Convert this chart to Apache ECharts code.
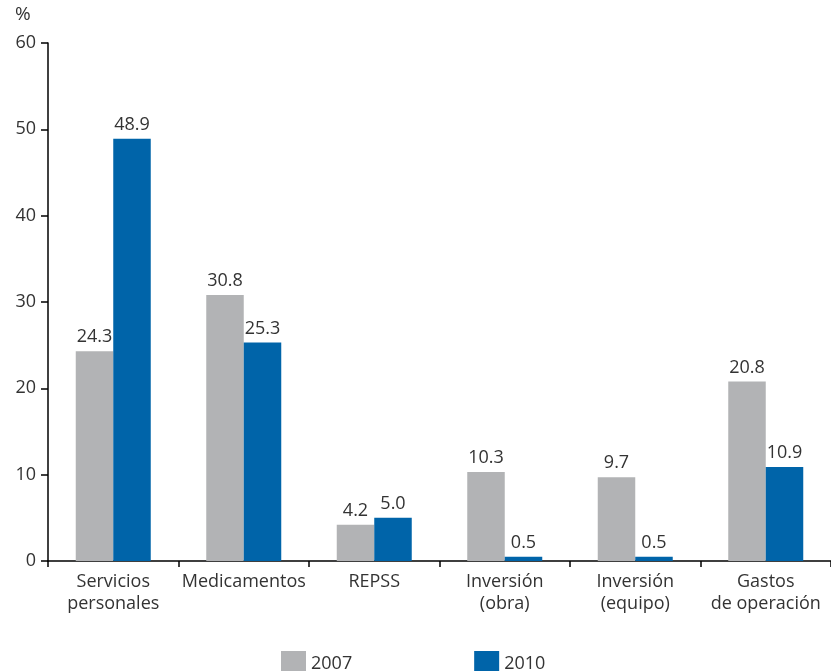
<!DOCTYPE html>
<html>
<head>
<meta charset="utf-8">
<script src="https://cdn.jsdelivr.net/npm/echarts@6/dist/echarts.min.js"></script>
<style>
  html, body { margin: 0; padding: 0; background: #fff; }
  #chart { width: 831px; height: 671px; }
</style>
</head>
<body>
<div id="chart"></div>
<script>
// Spending categories (share of total, %)
const categories = [
  'Servicios\npersonales',
  'Medicamentos',
  'REPSS',
  'Inversión\n(obra)',
  'Inversión\n(equipo)',
  'Gastos\nde operación'
];
const values2007 = [24.3, 30.8, 4.2, 10.3, 9.7, 20.8];
const values2010 = [48.9, 25.3, 5.0, 0.5, 0.5, 10.9];
const seriesNames = ['2007', '2010'];
const yTicks = { min: 0, max: 60, interval: 10 };

const FONT = '"Open Sans", "Noto Sans", sans-serif';
const TEXT = '#333';

const chart = echarts.init(document.getElementById('chart'), null, { renderer: 'canvas' });

const labelStyle = {
  show: true,
  position: 'top',
  distance: 5,
  color: TEXT,
  fontFamily: FONT,
  fontSize: 18,
  formatter: p => p.value.toFixed(1)
};

chart.setOption({
  animation: false,
  textStyle: { fontFamily: FONT },
  grid: { left: 48, top: 43, bottom: 110, width: 789 },
  legend: {
    data: seriesNames,
    left: 276,
    top: 646,
    itemWidth: 25,
    itemHeight: 25,
    itemGap: 122,
    icon: 'rect',
    textStyle: { color: TEXT, fontFamily: FONT, fontSize: 18 },
    selectedMode: false
  },
  graphic: [{
    type: 'text',
    left: 15,
    top: 5,
    style: { text: '%', fill: TEXT, font: '19px ' + FONT }
  }],
  xAxis: {
    type: 'category',
    data: categories,
    axisLine: { lineStyle: { color: '#000', width: 1.5 } },
    axisTick: { show: true, length: 6, alignWithLabel: false, lineStyle: { color: '#000', width: 1.5 } },
    axisLabel: {
      color: TEXT,
      fontFamily: FONT,
      fontSize: 18,
      lineHeight: 22,
      margin: 10,
      interval: 0
    }
  },
  yAxis: {
    type: 'value',
    min: yTicks.min,
    max: yTicks.max,
    interval: yTicks.interval,
    splitLine: { show: false },
    axisLine: { show: true, lineStyle: { color: '#000', width: 1.5 } },
    axisTick: { show: true, length: 7, lineStyle: { color: '#000', width: 1.5 } },
    axisLabel: { color: TEXT, fontFamily: FONT, fontSize: 18, margin: 12 }
  },
  series: [
    {
      name: seriesNames[0],
      type: 'bar',
      data: values2007,
      barWidth: 37.5,
      barGap: '0%',
      itemStyle: { color: '#b2b3b5' },
      label: labelStyle
    },
    {
      name: seriesNames[1],
      type: 'bar',
      data: values2010,
      barWidth: 37.5,
      barGap: '0%',
      itemStyle: { color: '#0064a9' },
      label: labelStyle
    }
  ]
});
</script>
</body>
</html>
